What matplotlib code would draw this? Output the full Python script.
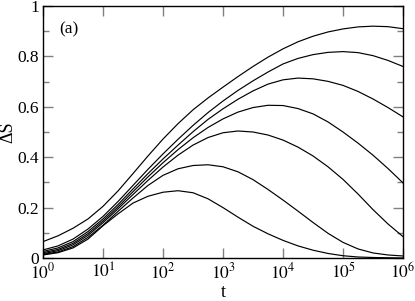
import numpy as np
import matplotlib
matplotlib.use("Agg")
import matplotlib.pyplot as plt
from matplotlib.ticker import FixedLocator, FixedFormatter, NullLocator

plt.rcParams['font.family'] = ['Liberation Serif', 'DejaVu Serif']
plt.rcParams['mathtext.fontset'] = 'stix'

# sampling grid in log10(t), quarter decades
log_t = np.arange(0, 6.001, 0.25)

c1 = [0.012, 0.021, 0.040, 0.075, 0.128, 0.175, 0.218, 0.245, 0.261, 0.267, 0.259, 0.235,
      0.200, 0.162, 0.126, 0.096, 0.070, 0.048, 0.031, 0.018, 0.009, 0.004, 0.002, 0.001, 0.000]
c2 = [0.014, 0.024, 0.045, 0.082, 0.130, 0.185, 0.238, 0.288, 0.328, 0.354, 0.367, 0.370,
      0.362, 0.342, 0.311, 0.272, 0.230, 0.186, 0.141, 0.098, 0.062, 0.036, 0.020, 0.012, 0.008]
c3 = [0.017, 0.029, 0.052, 0.090, 0.140, 0.195, 0.252, 0.308, 0.361, 0.408, 0.448, 0.478,
      0.497, 0.504, 0.500, 0.488, 0.468, 0.440, 0.405, 0.362, 0.312, 0.254, 0.192, 0.135, 0.085]
c4 = [0.021, 0.034, 0.058, 0.097, 0.147, 0.203, 0.263, 0.322, 0.378, 0.430, 0.477, 0.518,
      0.552, 0.579, 0.597, 0.606, 0.605, 0.593, 0.572, 0.540, 0.500, 0.456, 0.408, 0.355, 0.298]
c5 = [0.026, 0.040, 0.065, 0.105, 0.155, 0.212, 0.274, 0.335, 0.393, 0.448, 0.501, 0.550,
      0.592, 0.630, 0.663, 0.690, 0.707, 0.714, 0.711, 0.701, 0.685, 0.661, 0.631, 0.597, 0.560]
c6 = [0.032, 0.048, 0.075, 0.115, 0.165, 0.224, 0.288, 0.352, 0.413, 0.471, 0.526, 0.577,
      0.623, 0.665, 0.703, 0.738, 0.770, 0.792, 0.807, 0.816, 0.819, 0.815, 0.803, 0.784, 0.760]
c7 = [0.065, 0.088, 0.118, 0.155, 0.205, 0.266, 0.335, 0.405, 0.472, 0.533, 0.588, 0.635,
      0.678, 0.720, 0.760, 0.797, 0.830, 0.858, 0.880, 0.897, 0.909, 0.917, 0.920, 0.918, 0.910]
curves = [c1, c2, c3, c4, c5, c6, c7]

x_ticks = [1e0, 1e1, 1e2, 1e3, 1e4, 1e5, 1e6]
x_labels = [r'$10^{0}$', r'$10^{1}$', r'$10^{2}$', r'$10^{3}$', r'$10^{4}$', r'$10^{5}$', r'$10^{6}$']
y_ticks = [0, 0.2, 0.4, 0.6, 0.8, 1.0]
y_labels = ['0', '0.2', '0.4', '0.6', '0.8', '1']
y_minor = [0.1, 0.3, 0.5, 0.7, 0.9]

fig = plt.figure(figsize=(4.15, 3.01), dpi=100)
ax = fig.add_axes([43/415, 1-258/301, 360/415, 252/301])

t = 10 ** log_t
for c in curves:
    ax.plot(t, c, color='black', lw=0.85)

ax.set_xscale('log')
ax.set_xlim(1, 1e6)
ax.set_ylim(0, 1)
ax.xaxis.set_major_locator(FixedLocator(x_ticks))
ax.xaxis.set_major_formatter(FixedFormatter(x_labels))
ax.xaxis.set_minor_locator(NullLocator())
ax.yaxis.set_major_locator(FixedLocator(y_ticks))
ax.yaxis.set_major_formatter(FixedFormatter(y_labels))
ax.yaxis.set_minor_locator(FixedLocator(y_minor))

ax.tick_params(which='both', direction='in', top=True, right=True, color='#808080',
               width=1.0)
ax.tick_params(axis='y', labelsize=12.5)
ax.tick_params(axis='x', labelsize=12.5)
ax.tick_params(which='major', length=7, pad=3)
ax.tick_params(which='minor', length=4)
for s in ax.spines.values():
    s.set_linewidth(1.0)
    s.set_color('black')

ax.set_xlabel('t', fontsize=13, labelpad=1)
ax.set_ylabel('ΔS', fontsize=13, labelpad=0.5)
ax.text(0.045, 0.94, '(a)', transform=ax.transAxes, fontsize=12.5, va='top', ha='left')

fig.savefig('out.png', dpi=100)
